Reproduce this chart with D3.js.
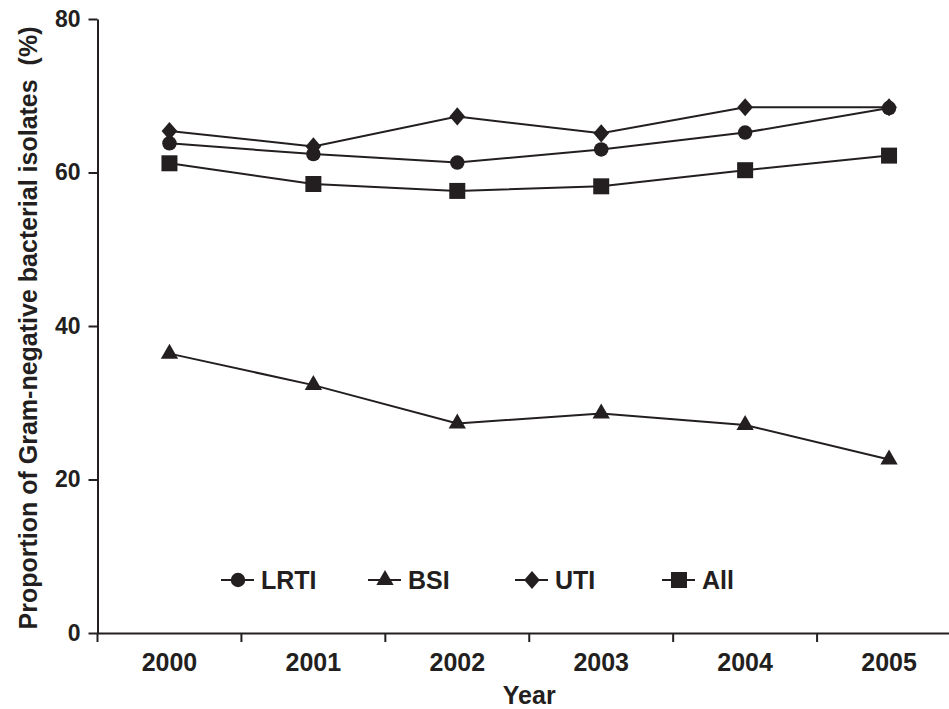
<!DOCTYPE html>
<html>
<head>
<meta charset="utf-8">
<script src="https://cdn.jsdelivr.net/npm/d3@7"></script>
<style>
  html, body { margin: 0; padding: 0; background: #fff; }
  svg { display: block; font-family: "Liberation Sans", Arial, sans-serif; font-weight: bold; }
</style>
</head>
<body>
<svg id="chart" width="949" height="709"></svg>
<script>
// values
const years = ["2000", "2001", "2002", "2003", "2004", "2005"];
const lrti = [63.8, 62.4, 61.3, 63.0, 65.2, 68.4];
const bsi = [36.4, 32.3, 27.3, 28.6, 27.1, 22.6];
const uti = [65.4, 63.4, 67.3, 65.1, 68.5, 68.5];
const all = [61.2, 58.5, 57.6, 58.2, 60.3, 62.2];
const yTicks = [0, 20, 40, 60, 80];
const seriesNames = ["LRTI", "BSI", "UTI", "All"];

const ink = "#231f20";
const width = 949, height = 709;
const margin = {top: 19, right: -12, bottom: 76, left: 97.5};

// rotated square, d3.symbolDiamond is too narrow here
const diamond = {
  draw(ctx, size) {
    const w = Math.sqrt(size) * 0.62, h = Math.sqrt(size) * 0.72;
    ctx.moveTo(0, -h); ctx.lineTo(w, 0); ctx.lineTo(0, h); ctx.lineTo(-w, 0); ctx.closePath();
  }
};

const series = [
  {name: seriesNames[0], values: lrti, type: d3.symbolCircle, size: 165},
  {name: seriesNames[1], values: bsi, type: d3.symbolTriangle, size: 130},
  {name: seriesNames[2], values: uti, type: diamond, size: 160},
  {name: seriesNames[3], values: all, type: d3.symbolSquare, size: 256}
];

const svg = d3.select("#chart");

const x = d3.scaleBand()
    .domain(years)
    .range([margin.left, width - margin.right])
    .padding(0);

const y = d3.scaleLinear()
    .domain([0, 80])
    .range([height - margin.bottom, margin.top]);

// y axis
svg.append("g")
    .attr("transform", `translate(${margin.left},0)`)
    .call(d3.axisLeft(y).tickValues(yTicks).tickSize(9).tickSizeOuter(0).tickPadding(8))
    .call(g => g.selectAll("path, line").attr("stroke", ink).attr("stroke-width", 2))
    .call(g => g.selectAll("text").attr("fill", ink).attr("font-size", 23).attr("font-family", null));

// x axis: labels at band centres, ticks at band edges
const xg = svg.append("g")
    .attr("transform", `translate(0,${y(0)})`)
    .call(d3.axisBottom(x).tickSize(0).tickSizeOuter(0).tickPadding(20))
    .call(g => g.selectAll(".domain").attr("stroke", ink).attr("stroke-width", 2))
    .call(g => g.selectAll("text").attr("fill", ink).attr("font-size", 25).attr("font-family", null));

xg.selectAll(".edge")
  .data(years)
  .join("line")
    .attr("class", "edge")
    .attr("x1", d => x(d)).attr("x2", d => x(d))
    .attr("y1", 0).attr("y2", 9)
    .attr("stroke", ink).attr("stroke-width", 2);

// axis titles
svg.append("text")
    .attr("x", (margin.left + width - margin.right) / 2)
    .attr("y", 704)
    .attr("text-anchor", "middle")
    .attr("font-size", 25)
    .attr("fill", ink)
    .text("Year");

svg.append("text")
    .attr("transform", `translate(37,${(y(0) + y(80)) / 2 + 2}) rotate(-90)`)
    .attr("text-anchor", "middle")
    .attr("font-size", 25)
    .attr("fill", ink)
    .attr("xml:space", "preserve")
    .text("Proportion of Gram-negative bacterial isolates  (%)");

// lines and markers
const line = d3.line()
    .x((d, i) => x(years[i]) + x.bandwidth() / 2)
    .y(d => y(d));

const sg = svg.append("g")
  .selectAll("g")
  .data(series)
  .join("g");

sg.append("path")
    .attr("d", d => line(d.values))
    .attr("fill", "none")
    .attr("stroke", ink)
    .attr("stroke-width", 2);

sg.selectAll("path.mark")
  .data(d => d.values.map((v, i) => ({v, i, s: d})))
  .join("path")
    .attr("class", "mark")
    .attr("transform", d => `translate(${x(years[d.i]) + x.bandwidth() / 2},${y(d.v)})`)
    .attr("d", d => d3.symbol().type(d.s.type).size(d.s.size)())
    .attr("fill", ink);

// legend
const legend = svg.append("g")
    .attr("transform", "translate(221,580)")
  .selectAll("g")
  .data(series)
  .join("g")
    .attr("transform", (d, i) => `translate(${i * 147},0)`);

legend.append("line")
    .attr("x1", 0).attr("x2", 33)
    .attr("stroke", ink).attr("stroke-width", 2);

legend.append("path")
    .attr("transform", "translate(17,0)")
    .attr("d", d => d3.symbol().type(d.type).size(d.size)())
    .attr("fill", ink);

legend.append("text")
    .attr("x", 40)
    .attr("dy", "0.36em")
    .attr("font-size", 25)
    .attr("fill", ink)
    .text(d => d.name);
</script>
</body>
</html>
